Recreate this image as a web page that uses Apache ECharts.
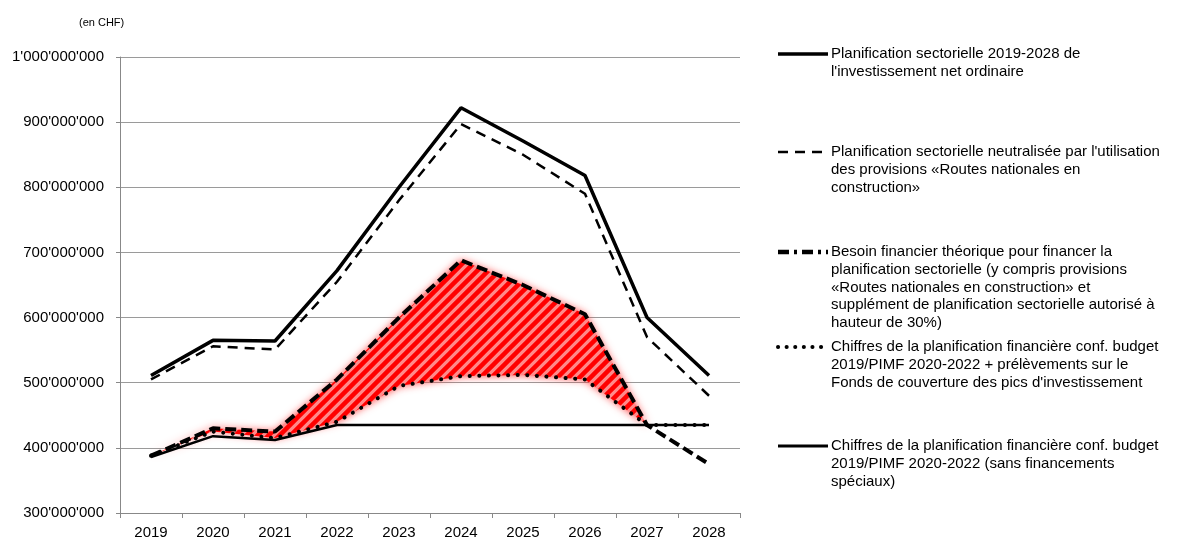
<!DOCTYPE html>
<html>
<head>
<meta charset="utf-8">
<script src="https://cdn.jsdelivr.net/npm/echarts@6/dist/echarts.min.js"></script>
<style>
  html, body { margin: 0; padding: 0; background: #fff; }
  #chart { width: 1191px; height: 540px; }
</style>
</head>
<body>
<div id="chart"></div>
<script>
const years = ["2019", "2020", "2021", "2022", "2023", "2024", "2025", "2026", "2027", "2028"];
const planSectorielle = [511, 565, 564, 672, 800, 922, 871, 818, 600, 511];
const planNeutralisee = [505, 556, 551, 655, 780, 897, 850, 790, 570, 480];
const besoinFinancier = [388, 430, 425, 505, 600, 688, 650, 605, 435, 375];
const chiffresPrelev = [388, 425, 415, 440, 495, 510, 512, 505, 435, 435];
const chiffresSans = [386, 418, 412, 435, 435, 435, 435, 435, 435, 435];
const legendNames = [
    "Planification sectorielle 2019-2028 de\nl'investissement net ordinaire",
    "Planification sectorielle neutralisée par l'utilisation\ndes provisions «Routes nationales en\nconstruction»",
    "Besoin financier théorique pour financer la\nplanification sectorielle (y compris provisions\n«Routes nationales en construction» et\nsupplément de planification sectorielle autorisé à\nhauteur de 30%)",
    "Chiffres de la planification financière conf. budget\n2019/PIMF 2020-2022 + prélèvements sur le\nFonds de couverture des pics d'investissement",
    "Chiffres de la planification financière conf. budget\n2019/PIMF 2020-2022 (sans financements\nspéciaux)"
];

const M = 1000000;
const toChf = (arr) => arr.map((v) => v * M);

// hatch pattern for the gap zone (red / light red diagonal stripes)
const T = 11;
const tile = document.createElement("canvas");
tile.width = T;
tile.height = T;
const tctx = tile.getContext("2d");
tctx.fillStyle = "#ff8a8a";
tctx.fillRect(0, 0, T, T);
tctx.strokeStyle = "#ff0000";
tctx.lineWidth = 4.5;
tctx.beginPath();
tctx.moveTo(-2, T + 2); tctx.lineTo(T + 2, -2);
tctx.moveTo(-T / 2 - 2, T / 2 + 2); tctx.lineTo(T / 2 + 2, -T / 2 - 2);
tctx.moveTo(T / 2 - 2, T * 1.5 + 2); tctx.lineTo(T * 1.5 + 2, T / 2 - 2);
tctx.stroke();

const gap = besoinFinancier.map((v, i) => Math.max(0, v - chiffresPrelev[i]));

function fmt(v) {
    return String(v).replace(/\B(?=(\d{3})+(?!\d))/g, "'");
}

const chartDom = document.getElementById("chart");
const myChart = echarts.init(chartDom, null, { renderer: "canvas" });

// legend drawn by hand so the sample sits on the first text line
const legendY = [54, 152, 252, 347, 446];
const legendStyles = [
    { lineWidth: 3.5, lineDash: null },
    { lineWidth: 2.5, lineDash: [10, 7] },
    { lineWidth: 4.5, lineDash: [11, 5, 3, 5] },
    { lineWidth: 4, lineDash: [0.1, 8.5], lineCap: "round" },
    { lineWidth: 3, lineDash: null }
];
const legendGraphics = [];
legendY.forEach(function (y, i) {
    legendGraphics.push({
        type: "line",
        shape: { x1: 778, y1: y, x2: 828, y2: y },
        style: Object.assign({ stroke: "#000" }, legendStyles[i])
    });
    legendGraphics.push({
        type: "text",
        x: 831,
        y: y - 9,
        style: {
            text: legendNames[i],
            font: "15px 'Liberation Sans', Arial, sans-serif",
            lineHeight: 17.8,
            fill: "#000",
            verticalAlign: "top"
        }
    });
});

const lineBase = { type: "line", symbol: "none", showSymbol: false, silent: true, animation: false };

const option = {
    animation: false,
    title: {
        text: "(en CHF)",
        left: 74,
        top: 12,
        textStyle: { fontSize: 11, fontWeight: "normal", color: "#000", fontFamily: "Liberation Sans" }
    },
    grid: { left: 120, right: 451, top: 57, bottom: 27 },
    xAxis: {
        type: "category",
        data: years,
        boundaryGap: true,
        axisLine: { lineStyle: { color: "#888", width: 1 } },
        axisTick: { show: true, length: 5, lineStyle: { color: "#888" } },
        axisLabel: { color: "#000", fontSize: 15, fontFamily: "Liberation Sans", margin: 12 }
    },
    yAxis: {
        type: "value",
        min: 300 * M,
        max: 1000 * M,
        interval: 100 * M,
        axisLine: { show: true, lineStyle: { color: "#888", width: 1 } },
        axisTick: { show: true, length: 4, lineStyle: { color: "#888" } },
        splitLine: { lineStyle: { color: "#9a9a9a", width: 1 } },
        axisLabel: { color: "#000", fontSize: 15, fontFamily: "Liberation Sans", margin: 16, formatter: fmt }
    },
    graphic: legendGraphics,
    series: [
        Object.assign({}, lineBase, {
            name: "base",
            data: toChf(chiffresPrelev),
            stack: "zone",
            lineStyle: { width: 0, opacity: 0 },
            z: 1
        }),
        Object.assign({}, lineBase, {
            name: "zone",
            data: toChf(gap),
            stack: "zone",
            lineStyle: { width: 0, opacity: 0 },
            areaStyle: {
                color: { image: tile, repeat: "repeat" },
                opacity: 1,
                shadowBlur: 8,
                shadowColor: "rgba(255,40,40,0.9)"
            },
            z: 1
        }),
        Object.assign({}, lineBase, {
            name: legendNames[4],
            data: toChf(chiffresSans),
            lineStyle: { color: "#000", width: 2.5 },
            z: 3
        }),
        Object.assign({}, lineBase, {
            name: legendNames[3],
            data: toChf(chiffresPrelev),
            lineStyle: { color: "#000", width: 4, type: [0.1, 9.5], cap: "round" },
            z: 4
        }),
        Object.assign({}, lineBase, {
            name: legendNames[1],
            data: toChf(planNeutralisee),
            lineStyle: { color: "#000", width: 2.5, type: [10, 7] },
            z: 4
        }),
        Object.assign({}, lineBase, {
            name: legendNames[0],
            data: toChf(planSectorielle),
            lineStyle: { color: "#000", width: 3.5 },
            z: 5
        }),
        Object.assign({}, lineBase, {
            name: legendNames[2],
            data: toChf(besoinFinancier),
            lineStyle: { color: "#000", width: 4, type: [11, 5] },
            z: 6
        })
    ]
};
myChart.setOption(option);

window.addEventListener("resize", function () {
    myChart.resize();
});
</script>
</body>
</html>
